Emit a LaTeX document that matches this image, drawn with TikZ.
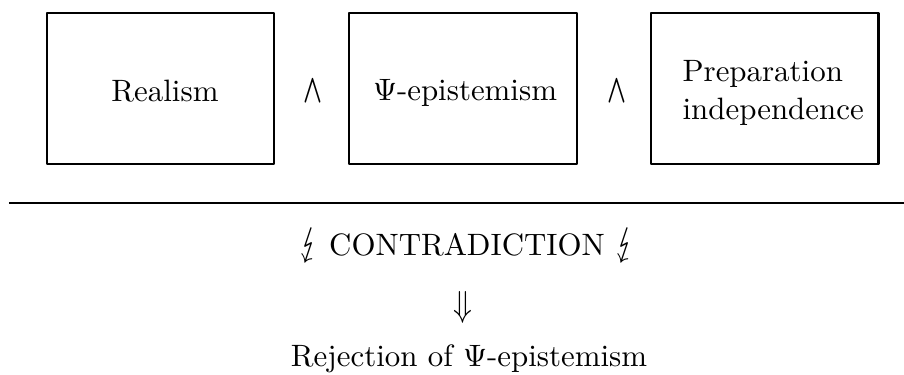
\documentclass[tikz,border=0pt]{standalone}
\usepackage{amssymb}
\usepackage{stmaryrd}
\usepackage{graphicx}
\newcommand{\mybolt}{\scalebox{1.05}[1.3]{$\lightning$}}
\newcommand{\mywedge}{\scalebox{0.8}[1.3]{\boldmath$\wedge$}}
\begin{document}
\begin{tikzpicture}[x=0.3236pt,y=-0.3236pt,
  box/.style={draw, line width=0.65pt, line join=round, minimum width=73.46pt, minimum height=48.86pt, inner sep=0pt},
  lbl/.style={inner sep=0pt, font=\fontsize{10}{12}\selectfont},
  rule/.style={line width=0.65pt}]
\useasboundingbox (0,0) rectangle (904,375);
% boxes
\node[box] (b1) at (160.5,88.5) {};
\node[box] (b2) at (463,88.5) {};
\node[box] (b3) at (765,88.5) {};
% box texts
\node[lbl, anchor=base] (t1) at (165,102) {Realism};
\node[lbl, anchor=base] (t2) at (465,101) {$\Psi$-epistemism};
\node[lbl, anchor=base west] (t3a) at (682,82) {Preparation};
\node[lbl, anchor=base west] (t3b) at (682,120) {independence};
% wedges
\node[lbl] (w1) at (312.5,91) {\mywedge};
\node[lbl] (w2) at (617,91.5) {\mywedge};
% rule
\coordinate (rl) at (9,202.7);
\coordinate (rr) at (904,202.7);
\draw[rule] (rl) -- (rr);
% bottom texts
\node[lbl, anchor=base] (c) at (467,256) {\mybolt{} CONTRADICTION \mybolt};
\node[lbl] (d) at (462.5,307) {\scalebox{1}[1.17]{$\Downarrow$}};
\node[lbl, anchor=base] (r) at (469,367) {Rejection of $\Psi$-epistemism};
\end{tikzpicture}
\end{document}
